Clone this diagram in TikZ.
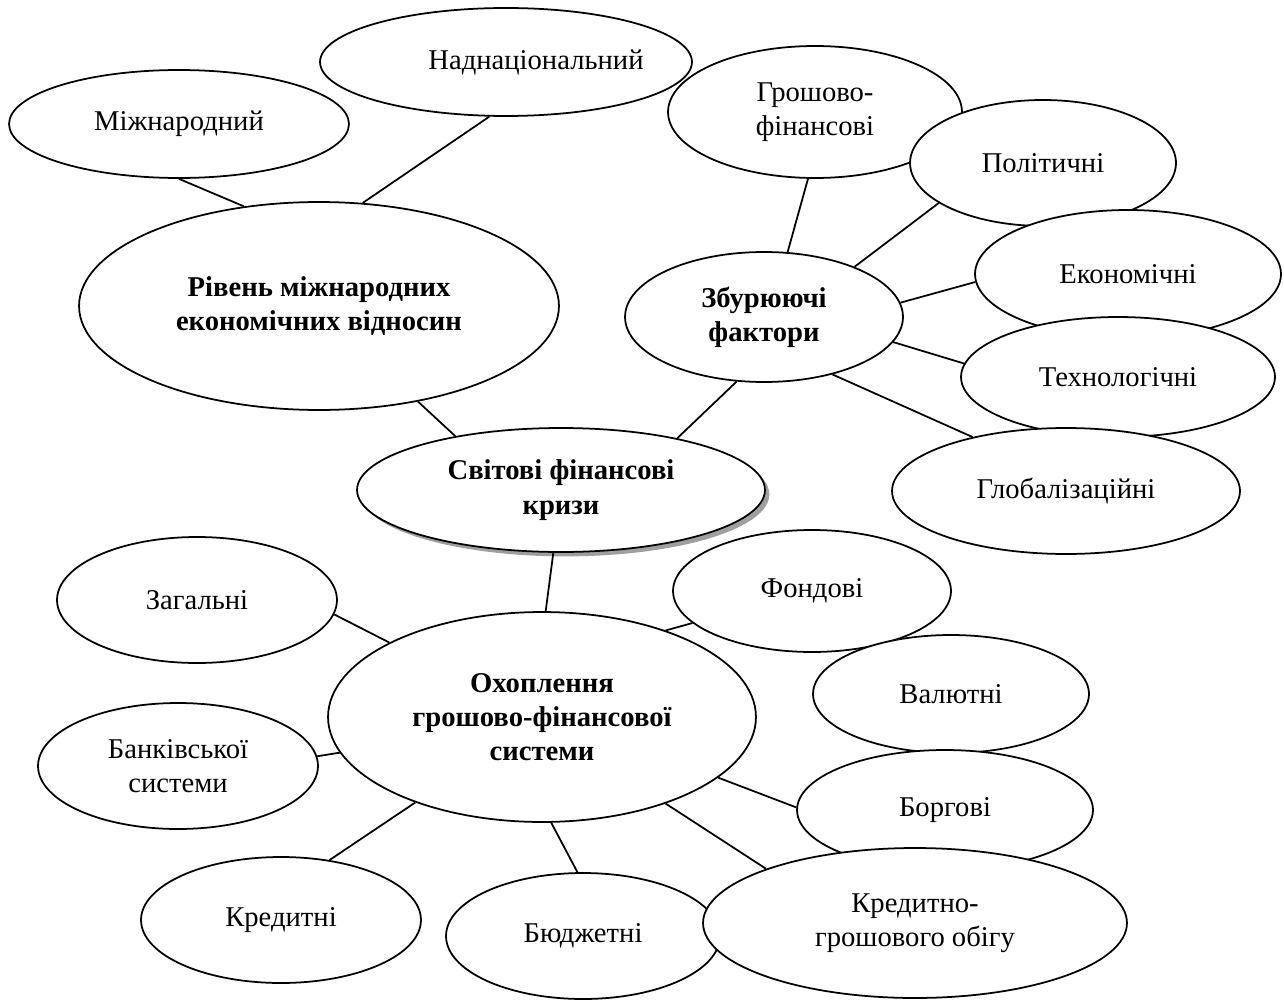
\documentclass[tikz,border=0pt]{standalone}
\usepackage{fontspec}
\setmainfont{Liberation Serif}
\usetikzlibrary{positioning,shapes.geometric,shadows}

\begin{document}
\begin{tikzpicture}[
    x=0.02cm, y=-0.02cm,
    bub/.style 2 args={draw, ellipse, fill=white, line width=1pt, inner sep=0pt,
        minimum width=#1, minimum height=#2, align=center,
        font=\fontsize{16.3}{19.5}\selectfont},
    key/.style={font=\fontsize{16.3}{19.5}\selectfont\bfseries},
    con/.style={line width=1pt}
]
    \useasboundingbox (0,0) rectangle (1284,1000);
    % upper left group
    \node[bub={6.80cm}{2.16cm}] (mizh) at (179,124) {Міжнародний};
    \node[bub={7.44cm}{2.16cm}] (nadn) at (506,62) {};
    \node[font=\fontsize{16.3}{19.5}\selectfont] (nadntxt) at ([xshift=0.6cm]nadn.center) {Наднаціональний};
    \node[bub={9.60cm}{4.16cm}, key] (riv) at (319,306) {Рівень міжнародних\\економічних відносин};
    % upper right group
    \node[bub={5.88cm}{2.64cm}] (grosh) at (815,112) {Грошово-\\фінансові};
    \node[bub={5.32cm}{2.52cm}] (polit) at (1043,163) {Політичні};
    \node[bub={6.12cm}{2.56cm}] (ekon) at (1128,274) {Економічні};
    \node[bub={6.28cm}{2.40cm}] (tekh) at (1118,377) {Технологічні};
    \node[bub={6.96cm}{2.52cm}] (glob) at (1066,491) {Глобалізаційні};
    \node[bub={5.56cm}{2.60cm}, key] (zbur) at (764,317) {Збурюючі\\фактори};
    % centre
    \node[bub={8.16cm}{2.48cm}, key,
        drop shadow={shadow xshift=2.5pt, shadow yshift=-2.5pt, fill=gray!75, opacity=1}]
        (svit) at (561,490) {Світові фінансові\\кризи};
    % lower group
    \node[bub={5.60cm}{2.52cm}] (zag) at (197,600) {Загальні};
    \node[bub={5.60cm}{2.52cm}] (bank) at (178,766) {Банківської\\системи};
    \node[bub={5.60cm}{2.52cm}] (kred) at (281,920) {Кредитні};
    \node[bub={8.56cm}{4.20cm}, key] (okh) at (542,717) {Охоплення\\грошово-фінансової\\системи};
    \node[bub={5.56cm}{2.44cm}] (fond) at (812,591) {Фондові};
    \node[bub={5.52cm}{2.36cm}] (val) at (951,694) {Валютні};
    \node[bub={5.92cm}{2.40cm}] (borg) at (945,810) {Боргові};
    \node[bub={5.48cm}{2.52cm}] (budzh) at (583,936) {Бюджетні};
    \node[bub={8.48cm}{3.00cm}] (kredgr) at (915,923) {Кредитно-\\грошового обігу};

    \draw[con] (mizh.-90) -- (riv.127);
    \draw[con] (nadn.-107) -- (riv.67);
    \draw[con] (riv.-44) -- (svit.153);
    \draw[con] (zbur.-113) -- (svit.24);
    \draw[con] (grosh.-96) -- (zbur.70);
    \draw[con] (polit.-159) -- (zbur.29);
    \draw[con] (ekon.-177) -- (zbur.6);
    \draw[con] (tekh.175) -- (zbur.-11);
    \draw[con] (glob.150) -- (zbur.-40);
    \draw[con] (svit.-97) -- (okh.88);
    \draw[con] (zag.-6) -- (okh.154);
    \draw[con] (bank.4) -- (okh.-170);
    \draw[con] (kred.51) -- (okh.-146);
    \draw[con] (budzh.95) -- (okh.-85);
    \draw[con] (kredgr.160) -- (okh.-35);
    \draw[con] (borg.179) -- (okh.-19);
    \draw[con] (fond.-165) -- (okh.35);
\end{tikzpicture}
\end{document}
